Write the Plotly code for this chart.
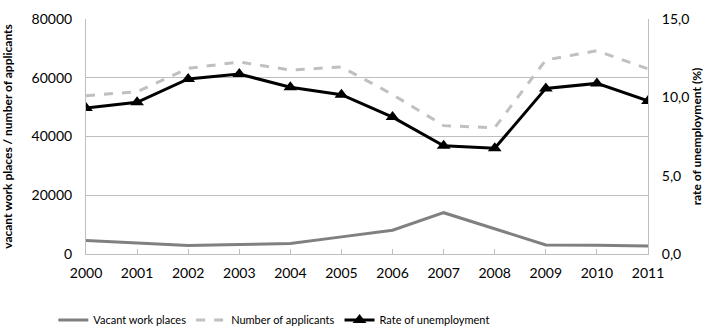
import plotly.graph_objects as go

years = [2000, 2001, 2002, 2003, 2004, 2005, 2006, 2007, 2008, 2009, 2010, 2011]
vacant = [4570, 3770, 2860, 3200, 3540, 5830, 8110, 14060, 8570, 3090, 2970, 2740]
applicants = [53900, 55250, 63200, 65360, 62640, 63660, 54300, 43700, 43000, 66040, 69200, 63000]
rate = [9.32, 9.68, 11.17, 11.49, 10.64, 10.17, 8.74, 6.91, 6.75, 10.57, 10.89, 9.77]

FONT = "Lato, Carlito, Calibri, Arial"
GRID = "#BEBEBE"

fig = go.Figure()
fig.add_trace(go.Scatter(x=years, y=vacant, name="Vacant work places", mode="lines",
                         line=dict(color="#808080", width=3)))
fig.add_trace(go.Scatter(x=years, y=applicants, name="Number of applicants", mode="lines",
                         line=dict(color="#C0C0C0", width=3, dash="dash")))
fig.add_trace(go.Scatter(x=years, y=rate, name="Rate of unemployment", mode="lines+markers",
                         yaxis="y2", line=dict(color="black", width=3),
                         marker=dict(symbol="triangle-up", size=12, color="black")))

fig.update_layout(
    width=711, height=330,
    margin=dict(l=86, r=63, t=19, b=76, autoexpand=False),
    paper_bgcolor="white", plot_bgcolor="white",
    separators=",.",
    font=dict(family=FONT, size=14, color="black"),
    showlegend=True,
    legend=dict(orientation="h", x=0.075, xanchor="left", xref="container",
                y=0.03, yanchor="middle", yref="container",
                font=dict(family=FONT, size=11), itemwidth=30, traceorder="normal"),
    xaxis=dict(range=[2000, 2011], tickmode="array", tickvals=years,
               ticktext=[str(y) for y in years], showgrid=False,
               showline=True, linecolor=GRID, ticks="inside", ticklen=5,
               tickcolor=GRID, zeroline=False, tickfont=dict(size=14),
               ticklabelstandoff=6),
    yaxis=dict(range=[0, 80000], dtick=20000, tickformat="d", showgrid=True,
               gridcolor=GRID, showline=True, linecolor=GRID, zeroline=False,
               ticks="", tickfont=dict(size=14), ticklabelstandoff=10,
               title=dict(text="<b>vacant work places / number of applicants</b>",
                          font=dict(size=12), standoff=16)),
    yaxis2=dict(range=[0, 15], dtick=5, tickformat=".1f", overlaying="y", side="right",
                showgrid=False, showline=True, linecolor=GRID, zeroline=False,
                ticks="", tickfont=dict(size=14), ticklabelstandoff=10,
                title=dict(text="<b>rate of unemployment (%)</b>",
                           font=dict(size=12), standoff=4)),
)

fig.write_html("out.html")
